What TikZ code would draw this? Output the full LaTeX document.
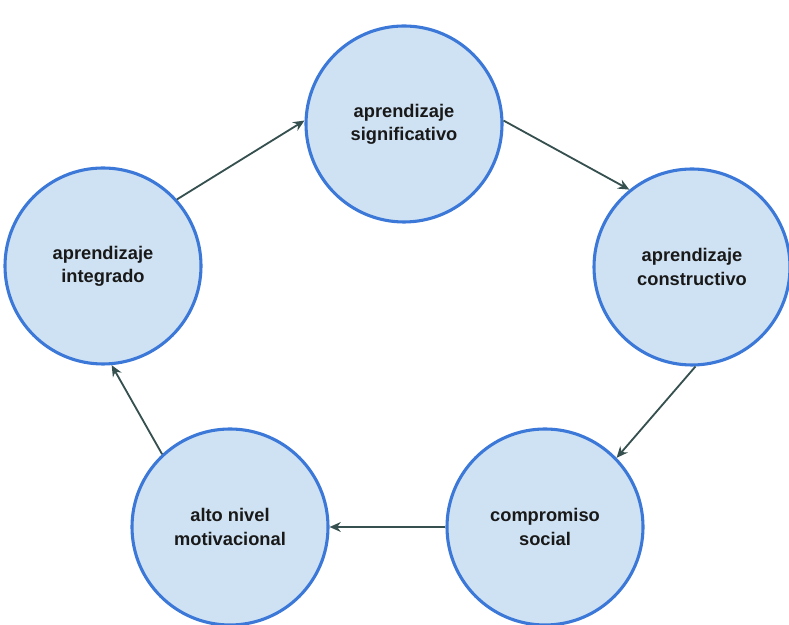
\documentclass[tikz,border=0pt]{standalone}
\usepackage{fontspec}
\setmainfont{Liberation Sans}
\usepackage{xcolor}
\usepackage{tikz}
\usetikzlibrary{arrows.meta}

\definecolor{ringblue}{HTML}{3C78D8}
\definecolor{ringfill}{HTML}{CFE2F3}
\definecolor{linkgray}{HTML}{35504E}

\begin{document}
\begin{tikzpicture}[
    idea/.style={circle, draw=ringblue, fill=ringfill, line width=2.2pt,
        minimum size=4.9cm, align=center, text=black!90,
        font=\fontsize{13}{16.5}\selectfont\bfseries},
    link/.style={-{Stealth[length=8pt,width=7pt]}, draw=linkgray, line width=1.3pt}]
    \useasboundingbox (0,0) rectangle (19.725,15.625);
    % the five circles of the cycle
    \node[idea] (signif) at (10.10,12.525) {aprendizaje\\significativo};
    \node[idea] (constr) at (17.30,8.95) {aprendizaje\\constructivo};
    \node[idea] (social) at (13.625,2.45) {compromiso\\social};
    \node[idea] (motiv) at (5.75,2.45) {alto nivel\\motivacional};
    \node[idea] (integr) at (2.575,8.975) {aprendizaje\\integrado};
    % arrows go round clockwise
    \draw[link] (signif.2) -- (constr.129);
    \draw[link] (constr.272) -- (social.44);
    \draw[link] (social.180) -- (motiv.0);
    \draw[link] (motiv.133) -- (integr.275);
    \draw[link] (integr.42) -- (signif.178);
\end{tikzpicture}
\end{document}
